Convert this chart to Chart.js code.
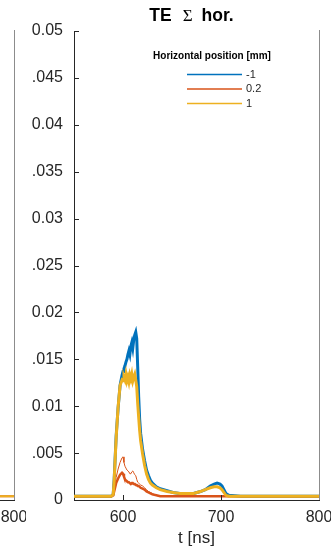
<!DOCTYPE html>
<html>
<head>
<meta charset="utf-8">
<script src="https://cdn.jsdelivr.net/npm/chart.js@4.4.0/dist/chart.umd.min.js"></script>
<style>
  html, body { margin: 0; padding: 0; background: #ffffff; overflow: hidden; }
  #wrap { position: relative; width: 331px; height: 552px; overflow: hidden; }
  canvas { position: absolute; top: 0; }
  #main { left: 0; }
  #prev { left: -305px; }
</style>
</head>
<body>
<div id="wrap">
  <canvas id="prev" width="331" height="552"></canvas>
  <canvas id="main" width="331" height="552"></canvas>
</div>
<script>
// time axis (ns), shared by all traces of the panel
const times = [
  550, 570, 588, 590, 591, 593, 595, 597, 599, 600,
  601, 602, 603, 604, 605, 606, 607, 608, 609, 610,
  611, 612, 613, 614, 615, 616, 617, 618, 620, 622,
  624, 626, 628, 630, 634, 638, 645, 651, 658, 665,
  672, 679, 684, 689, 693, 696, 699, 701, 703, 705,
  708, 720, 750, 780, 800
];

// horizontal position -1 mm
const posMinus1 = [
  .0004, .0004, .0004, .0006, .0022, .0068, .0098, .0122, .0133, .0137,
  .0140, .0143, .0147, .0150, .0155, .0159, .0155, .0164, .0168, .0162,
  .0171, .0176, .0179, .0172, .0142, .0110, .0086, .0071, .0054, .0042,
  .0032, .0026, .0021, .0018, .0014, .0012, .0010, .0008, .0007, .0006,
  .0007, .0009, .0011, .0015, .0017, .0018, .0017, .0015, .0011, .0007,
  .0005, .0004, .0004, .0004, .0004
];

// horizontal position 0.2 mm (thin trace)
const pos02 = [
  .0004, .0004, .0004, .0005, .0011, .0024, .0033, .0040, .0045, .0046,
  .0040, .0036, .0034, .0032, .0031, .0030, .0028, .0028, .0030, .0031,
  .0029, .0027, .0026, .0022, .0019, .0018, .0017, .0016, .0015, .0013,
  .0011, .0009, .0008, .0007, .0005, .0004, .0004, .0004, .0004, .0004,
  .0004, .0004, .0004, .0004, .0004, .0004, .0004, .0004, .0004, .0004,
  .0004, .0004, .0004, .0004, .0004
];

// horizontal position 0.2 mm (thick trace)
const pos02b = [
  .0004, .0004, .0004, .0005, .0009, .0018, .0023, .0027, .0029, .0028,
  .0025, .0022, .0021, .0020, .0019, .0019, .0018, .0017, .0018, .0018,
  .0017, .0017, .0016, .0016, .0015, .0015, .0014, .0013, .0012, .0011,
  .0009, .0008, .0007, .0006, .0005, .0004, .0004, .0004, .0004, .0004,
  .0004, .0004, .0004, .0004, .0004, .0004, .0004, .0004, .0004, .0004,
  .0004, .0004, .0004, .0004, .0004
];

// horizontal position 1 mm
const pos1 = [
  .0004, .0004, .0004, .0006, .0021, .0066, .0099, .0122, .0128, .0127,
  .0131, .0128, .0134, .0127, .0131, .0126, .0133, .0129, .0134, .0127,
  .0131, .0134, .0128, .0121, .0103, .0088, .0074, .0063, .0049, .0037,
  .0028, .0022, .0018, .0016, .0013, .0011, .0009, .0008, .0007, .0007,
  .0007, .0009, .0011, .0013, .0014, .0014, .0013, .0011, .0008, .0005,
  .0004, .0004, .0004, .0004, .0004
];

// the neighbouring panel, only its right end is visible
const prevTimes = [700, 800];
const prevOrange = [.0004, .0004];
const prevYellow = [.0004, .0004];

const legendTitle = "Horizontal position [mm]";
const legendLabels = ["-1", "0.2", "1"];
const xTickValues = [600, 700, 800];
const yTickValues = [0, .005, .01, .015, .02, .025, .03, .035, .04, .045, .05];
const yTickLabels = ["0", ".005", "0.01", ".015", "0.02", ".025", "0.03", ".035", "0.04", ".045", "0.05"];

const BLUE = "#0072BD";
const ORANGE = "#D95319";
const YELLOW = "#EDB120";
const AXIS = "#262626";
const SANS = '"Liberation Sans", Arial, Helvetica, sans-serif';

const toPoints = (xs, ys) => xs.map((x, i) => ({ x, y: ys[i] }));

const line = (data, color, width, order) => ({
  data,
  borderColor: color,
  borderWidth: width,
  pointRadius: 0,
  tension: 0,
  fill: false,
  order,
});

// inward ticks, right box edge
const boxTicks = {
  id: "boxTicks",
  afterDraw: (chart) => {
    const { ctx, chartArea: a, scales } = chart;
    ctx.save();
    ctx.lineWidth = 1;
    ctx.strokeStyle = AXIS;
    ctx.beginPath();
    yTickValues.forEach((v) => {
      const y = Math.round(scales.y.getPixelForValue(v)) + 0.5;
      ctx.moveTo(a.left, y);
      ctx.lineTo(a.left + 5, y);
    });
    xTickValues.forEach((v) => {
      const x = Math.round(scales.x.getPixelForValue(v)) + 0.5;
      ctx.moveTo(x, a.bottom);
      ctx.lineTo(x, a.bottom - 5);
    });
    ctx.stroke();
    ctx.strokeStyle = "#8c8c8c";
    ctx.beginPath();
    ctx.moveTo(Math.round(a.right) + 0.5, a.top - 1);
    ctx.lineTo(Math.round(a.right) + 0.5, a.bottom);
    ctx.stroke();
    ctx.restore();
  },
};

const sigmaTitle = {
  id: "sigmaTitle",
  afterDraw: (chart) => {
    const { ctx, chartArea: a } = chart;
    const parts = [
      { text: "TE", font: "bold 17.5px " + SANS },
      { text: "\u03A3", font: '17px "Liberation Serif", "DejaVu Serif", serif' },
      { text: "hor.", font: "bold 17.5px " + SANS },
    ];
    const gaps = [11, 9];
    ctx.save();
    ctx.fillStyle = "#000000";
    ctx.textBaseline = "middle";
    ctx.textAlign = "left";
    let total = 0;
    parts.forEach((p, i) => {
      ctx.font = p.font;
      p.w = ctx.measureText(p.text).width;
      total += p.w + (i < gaps.length ? gaps[i] : 0);
    });
    let x = (a.left + a.right) / 2 - 5 - total / 2;
    parts.forEach((p, i) => {
      ctx.font = p.font;
      ctx.fillText(p.text, x, 16.5);
      x += p.w + (i < gaps.length ? gaps[i] : 0);
    });
    ctx.restore();
  },
};

const lineLegend = {
  id: "lineLegend",
  afterDraw: (chart) => {
    const { ctx, chartArea: a } = chart;
    const cx = a.right - 107;
    const colors = [BLUE, ORANGE, YELLOW];
    ctx.save();
    ctx.fillStyle = "#000000";
    ctx.textAlign = "center";
    ctx.textBaseline = "middle";
    ctx.font = "bold 10px " + SANS;
    ctx.fillText(legendTitle, cx, 56);
    ctx.font = "11px " + SANS;
    ctx.textAlign = "left";
    legendLabels.forEach((label, i) => {
      const y = 74.5 + i * 14.5;
      ctx.beginPath();
      ctx.lineWidth = 1.5;
      ctx.strokeStyle = colors[i];
      ctx.moveTo(a.right - 132, y);
      ctx.lineTo(a.right - 77, y);
      ctx.stroke();
      ctx.fillStyle = AXIS;
      ctx.fillText(label, a.right - 73, y);
    });
    ctx.restore();
  },
};

function makeChart(canvas, datasets, plugins) {
  return new Chart(canvas.getContext("2d"), {
    type: "line",
    data: { datasets },
    options: {
      responsive: false,
      maintainAspectRatio: false,
      animation: false,
      devicePixelRatio: 1,
      layout: { padding: { top: 31, right: 12, bottom: 0, left: 0 } },
      plugins: { legend: { display: false }, tooltip: { enabled: false } },
      scales: {
        x: {
          type: "linear",
          min: 550,
          max: 800,
          afterBuildTicks: (scale) => {
            scale.ticks = xTickValues.map((v) => ({ value: v }));
          },
          afterFit: (scale) => {
            scale.height = 52;
            scale.paddingLeft = 0;
            scale.paddingRight = 0;
          },
          grid: { display: false, drawTicks: false },
          border: { display: true, color: AXIS, width: 1 },
          ticks: {
            color: AXIS,
            font: { family: SANS, size: 16 },
            padding: 8,
            maxRotation: 0,
            autoSkip: false,
            callback: (v) => String(v),
          },
          title: {
            display: true,
            text: "t [ns]",
            color: AXIS,
            font: { family: SANS, size: 17 },
            padding: { top: 0, bottom: 3 },
          },
        },
        y: {
          min: 0,
          max: 0.05,
          afterBuildTicks: (scale) => {
            scale.ticks = yTickValues.map((v) => ({ value: v }));
          },
          afterFit: (scale) => {
            scale.width = 74;
            scale.paddingTop = 0;
            scale.paddingBottom = 0;
          },
          grid: { display: false, drawTicks: false },
          border: { display: true, color: AXIS, width: 1 },
          ticks: {
            color: AXIS,
            font: { family: SANS, size: 16 },
            padding: 11,
            autoSkip: false,
            callback: (v) => {
              const i = yTickValues.findIndex((t) => Math.abs(t - v) < 1e-9);
              return i >= 0 ? yTickLabels[i] : "";
            },
          },
        },
      },
    },
    plugins,
  });
}

makeChart(
  document.getElementById("prev"),
  [
    line(toPoints(prevTimes, prevYellow), YELLOW, 2, 0),
    line(toPoints(prevTimes, prevOrange), ORANGE, 2, 1),
  ],
  [boxTicks]
);

makeChart(
  document.getElementById("main"),
  [
    line(toPoints(times, pos1), YELLOW, 3, 0),
    line(toPoints(times, pos02b), ORANGE, 2.5, 1),
    line(toPoints(times, pos02), ORANGE, 1, 2),
    line(toPoints(times, posMinus1), BLUE, 3, 3),
  ],
  [boxTicks, sigmaTitle, lineLegend]
);
</script>
</body>
</html>
